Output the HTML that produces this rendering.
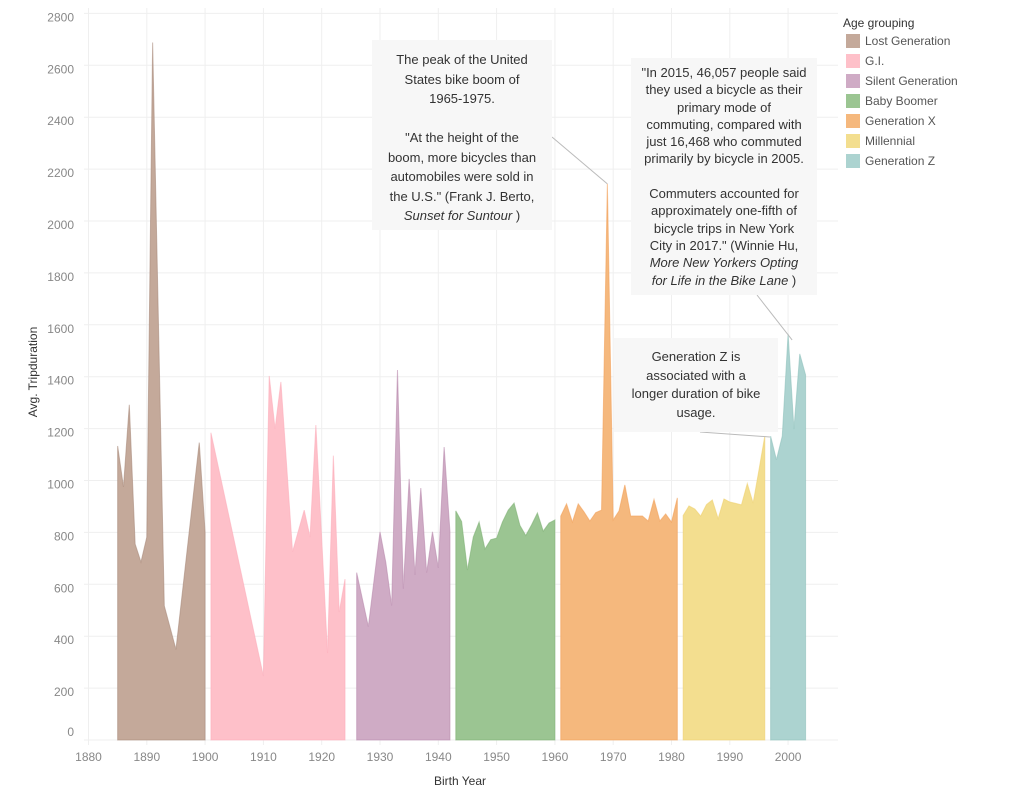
<!DOCTYPE html>
<html><head><meta charset="utf-8"><style>
body{margin:0;background:#fff;font-family:"Liberation Sans",sans-serif;}
#wrap{position:relative;width:1014px;height:795px;overflow:hidden;}
.ann{position:absolute;background:#f7f7f7;color:#333;font-size:13px;text-align:center;box-sizing:border-box;white-space:nowrap;}
.leg{position:absolute;left:846px;font-size:12px;color:#555;}
.sw{position:absolute;width:14px;height:14px;}
</style></head><body>
<div id="wrap">
<svg id="chart" width="1014" height="795" style="position:absolute;left:0;top:0"></svg>

<div class="ann" style="left:372px;top:40px;width:180px;height:190px;padding-top:10px;line-height:19.5px;">The peak of the United<br>States bike boom of<br>1965-1975.<br><br>"At the height of the<br>boom, more bicycles than<br>automobiles were sold in<br>the U.S." (Frank J. Berto,<br><i>Sunset for Suntour</i> )</div>
<div class="ann" style="left:631px;top:58px;width:186px;height:237px;padding-top:6px;line-height:17.3px;">"In 2015, 46,057 people said<br>they used a bicycle as their<br>primary mode of<br>commuting, compared with<br>just 16,468 who commuted<br>primarily by bicycle in 2005.<br><br>Commuters accounted for<br>approximately one-fifth of<br>bicycle trips in New York<br>City in 2017." (Winnie Hu,<br><i>More New Yorkers Opting</i><br><i>for Life in the Bike Lane</i> )</div>
<div class="ann" style="left:614px;top:338px;width:164px;height:94px;padding-top:10px;line-height:18.5px;">Generation Z is<br>associated with a<br>longer duration of bike<br>usage.</div>

<div>
<div class="leg" style="left:843px;top:16px;color:#333;">Age grouping</div>
</div>
</div>
<script>
const groups = ["Lost Generation","G.I.","Silent Generation","Baby Boomer","Generation X","Millennial","Generation Z"];
const colors = ["#c4a99a","#fec0c9","#cfabc5","#9bc592","#f5b87d","#f3de8f","#acd3d0"];
const lines = ["#a88b7b","#fcaebb","#b98aae","#7fb174","#f2a05a","#efd070","#8fc1bd"];
const lostYears = [1885,1886,1887,1888,1889,1890,1891,1893,1895,1899,1900];
const lostVals = [1133,975,1292,755,686,782,2688,517,349,1146,800];
const giYears = [1901,1910,1911,1912,1913,1915,1917,1918,1919,1921,1922,1923,1924];
const giVals = [1184,246,1403,1199,1380,726,886,782,1214,335,1096,493,620];
const silentYears = [1926,1928,1930,1931,1932,1933,1934,1935,1936,1937,1938,1939,1940,1941,1942];
const silentVals = [645,437,802,684,518,1426,583,1006,636,971,645,802,663,1129,802];
const boomerYears = [1943,1944,1945,1946,1947,1948,1949,1950,1951,1952,1953,1954,1955,1956,1957,1958,1959,1960];
const boomerVals = [883,842,655,782,840,736,772,778,840,886,913,827,788,829,875,805,836,848];
const genxYears = [1961,1962,1963,1964,1965,1966,1967,1968,1969,1970,1971,1972,1973,1974,1975,1976,1977,1978,1979,1980,1981];
const genxVals = [863,910,840,910,879,844,876,886,2143,848,883,983,863,863,863,844,927,844,871,840,933];
const millYears = [1982,1983,1984,1985,1986,1987,1988,1989,1990,1991,1992,1993,1994,1995,1996];
const millVals = [865,902,890,863,907,925,853,929,917,912,906,988,913,1040,1171];
const genzYears = [1997,1998,1999,2000,2001,2002,2003];
const genzVals = [1171,1080,1171,1565,1198,1488,1407];
const xTicks = [1880,1890,1900,1910,1920,1930,1940,1950,1960,1970,1980,1990,2000];
const yTicks = [0,200,400,600,800,1000,1200,1400,1600,1800,2000,2200,2400,2600,2800];

const series = [[lostYears,lostVals],[giYears,giVals],[silentYears,silentVals],[boomerYears,boomerVals],[genxYears,genxVals],[millYears,millVals],[genzYears,genzVals]];
const X = y => 88.5 + (y-1880)*5.83;
const Y = v => 740 - v*51.9/200;
const NS="http://www.w3.org/2000/svg";
const svg=document.getElementById('chart');
function mk(t,a){const e=document.createElementNS(NS,t);for(const k in a)e.setAttribute(k,a[k]);svg.appendChild(e);return e;}

yTicks.forEach(v=>{
  const g=mk('line',{x1:84,x2:838,y1:Y(v),y2:Y(v),stroke:'#efefef','stroke-width':1});
  
  
  const t=mk('text',{x:74,y:(v===0?Y(v)-4:Y(v)+8),'text-anchor':'end','font-size':12,fill:'#888'});
  t.textContent=v;
  
  
});
xTicks.forEach(v=>{
  const g=mk('line',{x1:X(v),x2:X(v),y1:8,y2:745,stroke:'#efefef','stroke-width':1});
  
  
  const t=mk('text',{x:X(v),y:761,'text-anchor':'middle','font-size':12,fill:'#888'});
  t.textContent=v;
  
  
});
series.forEach((s,i)=>{
  const [ys,vs]=s;
  let d='M'+X(ys[0])+','+Y(0);
  ys.forEach((y,j)=>{d+=' L'+X(y)+','+Y(vs[j]);});
  d+=' L'+X(ys[ys.length-1])+','+Y(0)+' Z';
  const p=mk('path',{d:d,fill:colors[i],stroke:lines[i],'stroke-width':1,'stroke-opacity':0.6});
  
  
});
const xl=mk('text',{x:460,y:785,'text-anchor':'middle','font-size':12,fill:'#333'});
xl.textContent='Birth Year';


const yl=mk('text',{x:0,y:0,'text-anchor':'middle','font-size':12,fill:'#333',transform:'translate(37,372) rotate(-90)'});
yl.textContent='Avg. Tripduration';


[[552,137,X(1969),Y(2143)],[757,295,X(2000)+4,Y(1565)+6],[700,432,770,437]].forEach(c=>{
  const l=mk('line',{x1:c[0],y1:c[1],x2:c[2],y2:c[3],stroke:'#bbb','stroke-width':1});
  
  
});
const wrap=document.getElementById('wrap');
groups.forEach((g,i)=>{
  const sw=document.createElement('div');
  sw.className='sw';sw.style.left='846px';sw.style.top=(34+i*20)+'px';sw.style.background=colors[i];
  
  
  wrap.appendChild(sw);
  const lb=document.createElement('div');
  lb.className='leg';lb.style.left='865px';lb.style.top=(34+i*20)+'px';lb.textContent=g;
  
  
  wrap.appendChild(lb);
});
</script>
</body></html>
